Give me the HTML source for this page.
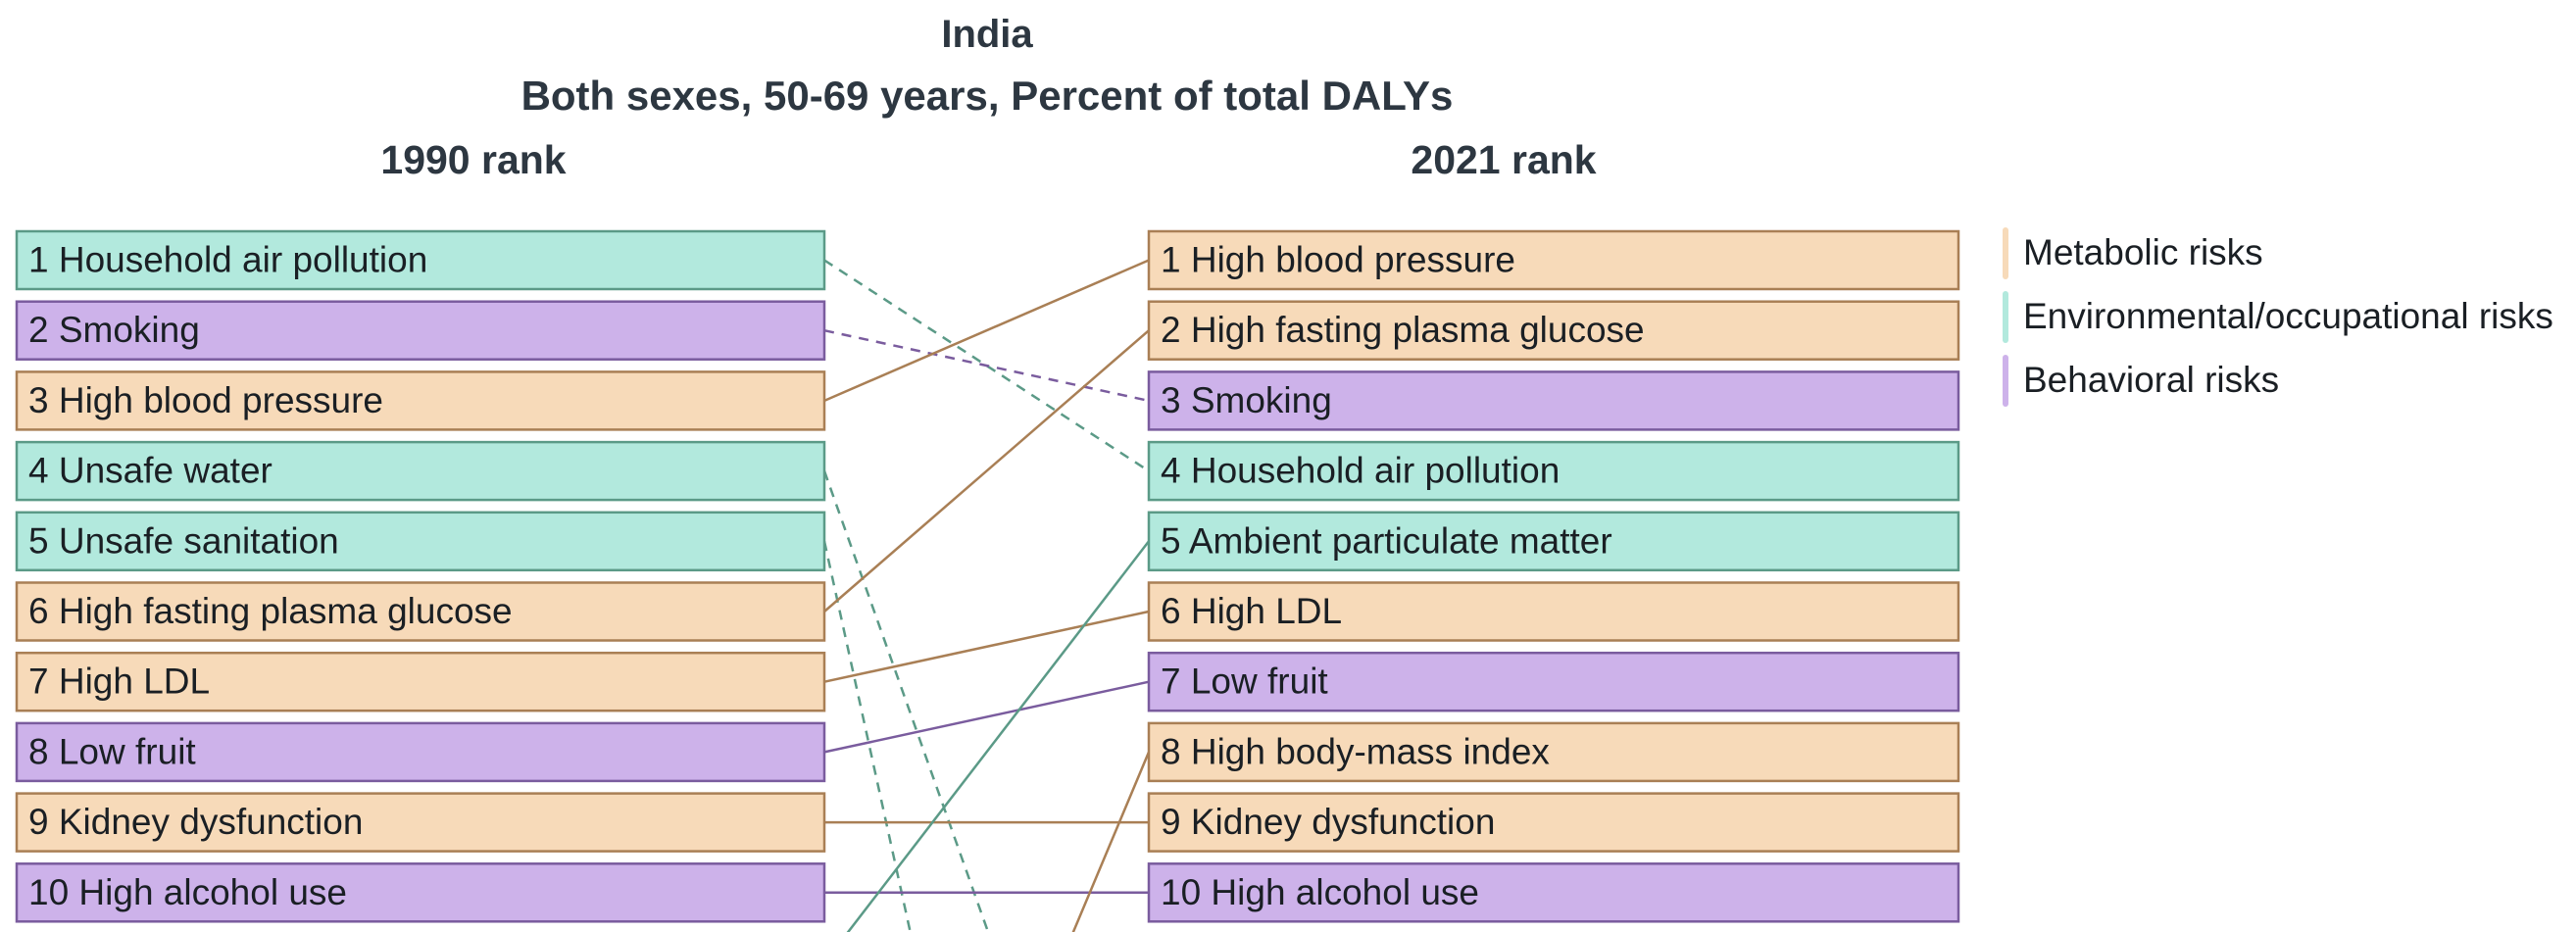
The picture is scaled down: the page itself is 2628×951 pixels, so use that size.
<!DOCTYPE html>
<html><head><meta charset="utf-8"><style>
html,body{margin:0;padding:0;background:#fff;width:2628px;height:951px;overflow:hidden}
svg{display:block;font-family:"Liberation Sans",sans-serif}
</style></head><body>
<svg id="chart" width="2628" height="951">
<defs><clipPath id="clip"><rect x="0" y="0" width="2628" height="951"/></clipPath></defs>
<text x="1007" y="48" text-anchor="middle" font-size="40" font-weight="bold" fill="#2d3741">India</text>
<text x="1007" y="112" text-anchor="middle" font-size="42" font-weight="bold" fill="#2d3741">Both sexes, 50-69 years, Percent of total DALYs</text>
<text x="483" y="177" text-anchor="middle" font-size="41" font-weight="bold" fill="#2d3741">1990 rank</text>
<text x="1534" y="177" text-anchor="middle" font-size="41" font-weight="bold" fill="#2d3741">2021 rank</text>
<g id="lines" clip-path="url(#clip)"></g><g id="boxes"></g><g id="legend"></g>
</svg>
<script>
const leftNames = ["Household air pollution","Smoking","High blood pressure","Unsafe water","Unsafe sanitation","High fasting plasma glucose","High LDL","Low fruit","Kidney dysfunction","High alcohol use"];
const leftCats = ["env","beh","met","env","env","met","met","beh","met","beh"];
const rightNames = ["High blood pressure","High fasting plasma glucose","Smoking","Household air pollution","Ambient particulate matter","High LDL","Low fruit","High body-mass index","Kidney dysfunction","High alcohol use"];
const rightCats = ["met","met","beh","env","env","met","beh","met","met","beh"];
// links: rank 1990 -> rank 2021
const linkFrom = [1,2,3,4,5,6,7,8,9,10,11,19];
const linkTo   = [4,3,1,17,26,2,6,7,9,10,5,8];
const linkCats = ["env","beh","met","env","env","met","met","beh","met","beh","env","met"];
const legendNames = ["Metabolic risks","Environmental/occupational risks","Behavioral risks"];
const legendCats = ["met","env","beh"];

const fills={met:"#f7dab9",env:"#b2e9dd",beh:"#cdb2ea"};
const strokes={met:"#a97f55",env:"#5b9a87",beh:"#7a5c9e"};
const NS="http://www.w3.org/2000/svg";
const L0=17,L1=841,R0=1172,R1=1998,boxH=59;
function yTop(r){return 236+(r-1)*71.7;}
function yC(r){return yTop(r)+boxH/2;}
function mk(tag,attrs,parent){const e=document.createElementNS(NS,tag);for(const k in attrs)e.setAttribute(k,attrs[k]);parent.appendChild(e);return e;}
const gl=document.getElementById('lines'),gb=document.getElementById('boxes'),gg=document.getElementById('legend');
linkFrom.forEach((f,i)=>{
  const t=linkTo[i];
  const ln=mk('line',{x1:L1,y1:yC(f),x2:R0,y2:yC(t),stroke:strokes[linkCats[i]],'stroke-width':2.5},gl);
  if(t>f) ln.setAttribute('stroke-dasharray','10 8');
  
  
});
function drawBox(x0,x1,r,name,cat,side){
  const g=mk('g',{},gb);
  
  
  mk('rect',{x:x0,y:yTop(r),width:x1-x0,height:boxH,fill:fills[cat],stroke:strokes[cat],'stroke-width':2.5},g);
  const t=mk('text',{x:x0+12,y:yC(r)+12,'font-size':37,fill:'#1a1f24'},g);
  t.textContent=r+' '+name;
}
leftNames.forEach((n,i)=>drawBox(L0,L1,i+1,n,leftCats[i],'left'));
rightNames.forEach((n,i)=>drawBox(R0,R1,i+1,n,rightCats[i],'right'));
legendNames.forEach((n,i)=>{
  const g=mk('g',{},gg);
  
  
  const y=258+i*65;
  mk('rect',{x:2043,y:y-26,width:6,height:53,rx:3,fill:fills[legendCats[i]]},g);
  const t=mk('text',{x:2064,y:y+12,'font-size':37,fill:'#1a1f24'},g);
  t.textContent=n;
});
</script>
</body></html>
